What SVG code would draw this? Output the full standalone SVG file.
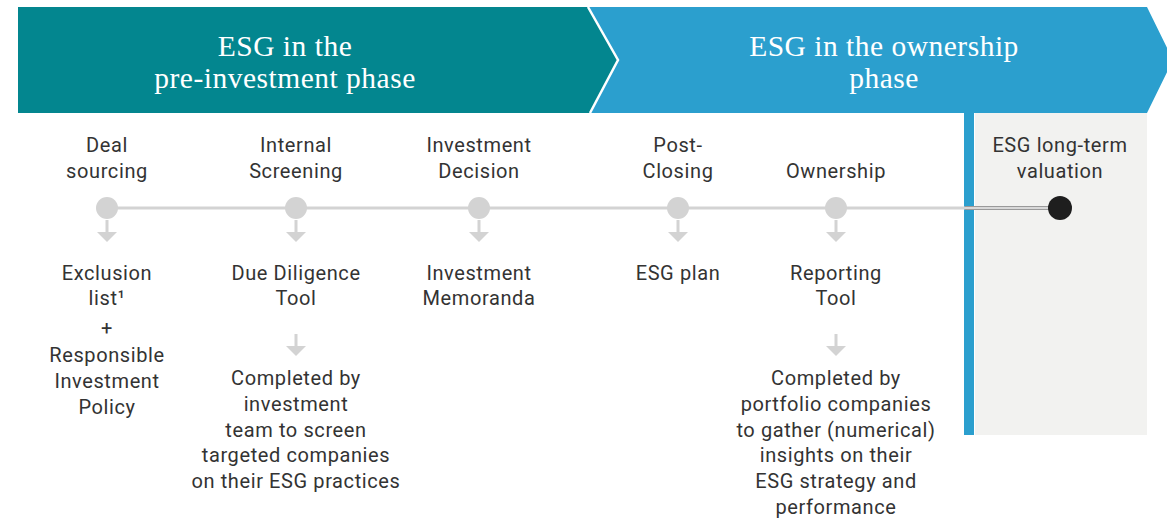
<svg xmlns="http://www.w3.org/2000/svg" width="1167" height="520" viewBox="0 0 1167 520">
  <defs>
    <style>
      .title { font-family: "Liberation Serif", "DejaVu Serif", serif; font-size: 29.5px; letter-spacing: 0.5px; fill: #ffffff; text-anchor: middle; }
      .lbl { font-family: Roboto, "Liberation Sans", sans-serif; font-size: 20px; letter-spacing: 0.6px; fill: #333333; text-anchor: middle; }
      .dot { fill: #d3d3d3; }
      .stem { stroke: #d3d3d3; stroke-width: 3; fill: none; }
      .head { fill: #d3d3d3; }
    </style>
    <g id="down-arrow">
      <line class="stem" x1="0" y1="0" x2="0" y2="14"/>
      <polygon class="head" points="-10,12 10,12 0,22"/>
    </g>
  </defs>

  <rect width="1167" height="520" fill="#ffffff"/>

  <!-- phase banners -->
  <g id="phase-ownership">
    <polygon points="588,7 1147,7 1173,60 1147,113 590,113 618,60" fill="#2b9fce"/>
    <text class="title" x="884" y="56">ESG in the ownership</text>
    <text class="title" x="884" y="88">phase</text>
  </g>
  <g id="phase-pre-investment">
    <polygon points="18,7 588,7 618,60 590,113 18,113" fill="#03868f"/>
    <polyline points="588,7 618,60 590,113" fill="none" stroke="#ffffff" stroke-width="2.5"/>
    <text class="title" x="285" y="56">ESG in the</text>
    <text class="title" x="285" y="88">pre-investment phase</text>
  </g>

  <!-- long-term valuation panel -->
  <rect x="975" y="113" width="172" height="322" fill="#f2f2f0"/>
  <rect x="964" y="113" width="10" height="322" fill="#2b9fce"/>

  <!-- connectors -->
  <g id="connectors">
    <line x1="107" y1="208" x2="1060" y2="208" stroke="#d3d3d3" stroke-width="3"/>
    <line x1="965" y1="208" x2="1050" y2="208" stroke="#9a9a9a" stroke-width="4"/>
    <line x1="965" y1="208" x2="1050" y2="208" stroke="#d8d8d8" stroke-width="2"/>
    <use href="#down-arrow" x="107" y="220"/>
    <use href="#down-arrow" x="296" y="220"/>
    <use href="#down-arrow" x="479" y="220"/>
    <use href="#down-arrow" x="678" y="220"/>
    <use href="#down-arrow" x="836" y="220"/>
    <use href="#down-arrow" x="296" y="334"/>
    <use href="#down-arrow" x="836" y="334"/>
  </g>

  <g id="deal-sourcing">
    <text class="lbl" x="107" y="152">Deal</text>
    <text class="lbl" x="107" y="178">sourcing</text>
    <circle class="dot" cx="107" cy="208" r="11"/>
    <text class="lbl" x="107" y="280">Exclusion</text>
    <text class="lbl" x="107" y="305">list¹</text>
    <text class="lbl" x="107" y="335">+</text>
    <text class="lbl" x="107" y="362">Responsible</text>
    <text class="lbl" x="107" y="388">Investment</text>
    <text class="lbl" x="107" y="414">Policy</text>
  </g>

  <g id="internal-screening">
    <text class="lbl" x="296" y="152">Internal</text>
    <text class="lbl" x="296" y="178">Screening</text>
    <circle class="dot" cx="296" cy="208" r="11"/>
    <text class="lbl" x="296" y="280">Due Diligence</text>
    <text class="lbl" x="296" y="305">Tool</text>
    <text class="lbl" x="296" y="385">Completed by</text>
    <text class="lbl" x="296" y="411">investment</text>
    <text class="lbl" x="296" y="437">team to screen</text>
    <text class="lbl" x="296" y="462">targeted companies</text>
    <text class="lbl" x="296" y="488">on their ESG practices</text>
  </g>

  <g id="investment-decision">
    <text class="lbl" x="479" y="152">Investment</text>
    <text class="lbl" x="479" y="178">Decision</text>
    <circle class="dot" cx="479" cy="208" r="11"/>
    <text class="lbl" x="479" y="280">Investment</text>
    <text class="lbl" x="479" y="305">Memoranda</text>
  </g>

  <g id="post-closing">
    <text class="lbl" x="678" y="152">Post-</text>
    <text class="lbl" x="678" y="178">Closing</text>
    <circle class="dot" cx="678" cy="208" r="11"/>
    <text class="lbl" x="678" y="280">ESG plan</text>
  </g>

  <g id="ownership">
    <text class="lbl" x="836" y="178">Ownership</text>
    <circle class="dot" cx="836" cy="208" r="11"/>
    <text class="lbl" x="836" y="280">Reporting</text>
    <text class="lbl" x="836" y="305">Tool</text>
    <text class="lbl" x="836" y="385">Completed by</text>
    <text class="lbl" x="836" y="411">portfolio companies</text>
    <text class="lbl" x="836" y="437">to gather (numerical)</text>
    <text class="lbl" x="836" y="462">insights on their</text>
    <text class="lbl" x="836" y="488">ESG strategy and</text>
    <text class="lbl" x="836" y="514">performance</text>
  </g>

  <g id="long-term-valuation">
    <text class="lbl" x="1060" y="152">ESG long-term</text>
    <text class="lbl" x="1060" y="178">valuation</text>
    <circle cx="1060" cy="208" r="12" fill="#1e1e1e"/>
  </g>
</svg>
